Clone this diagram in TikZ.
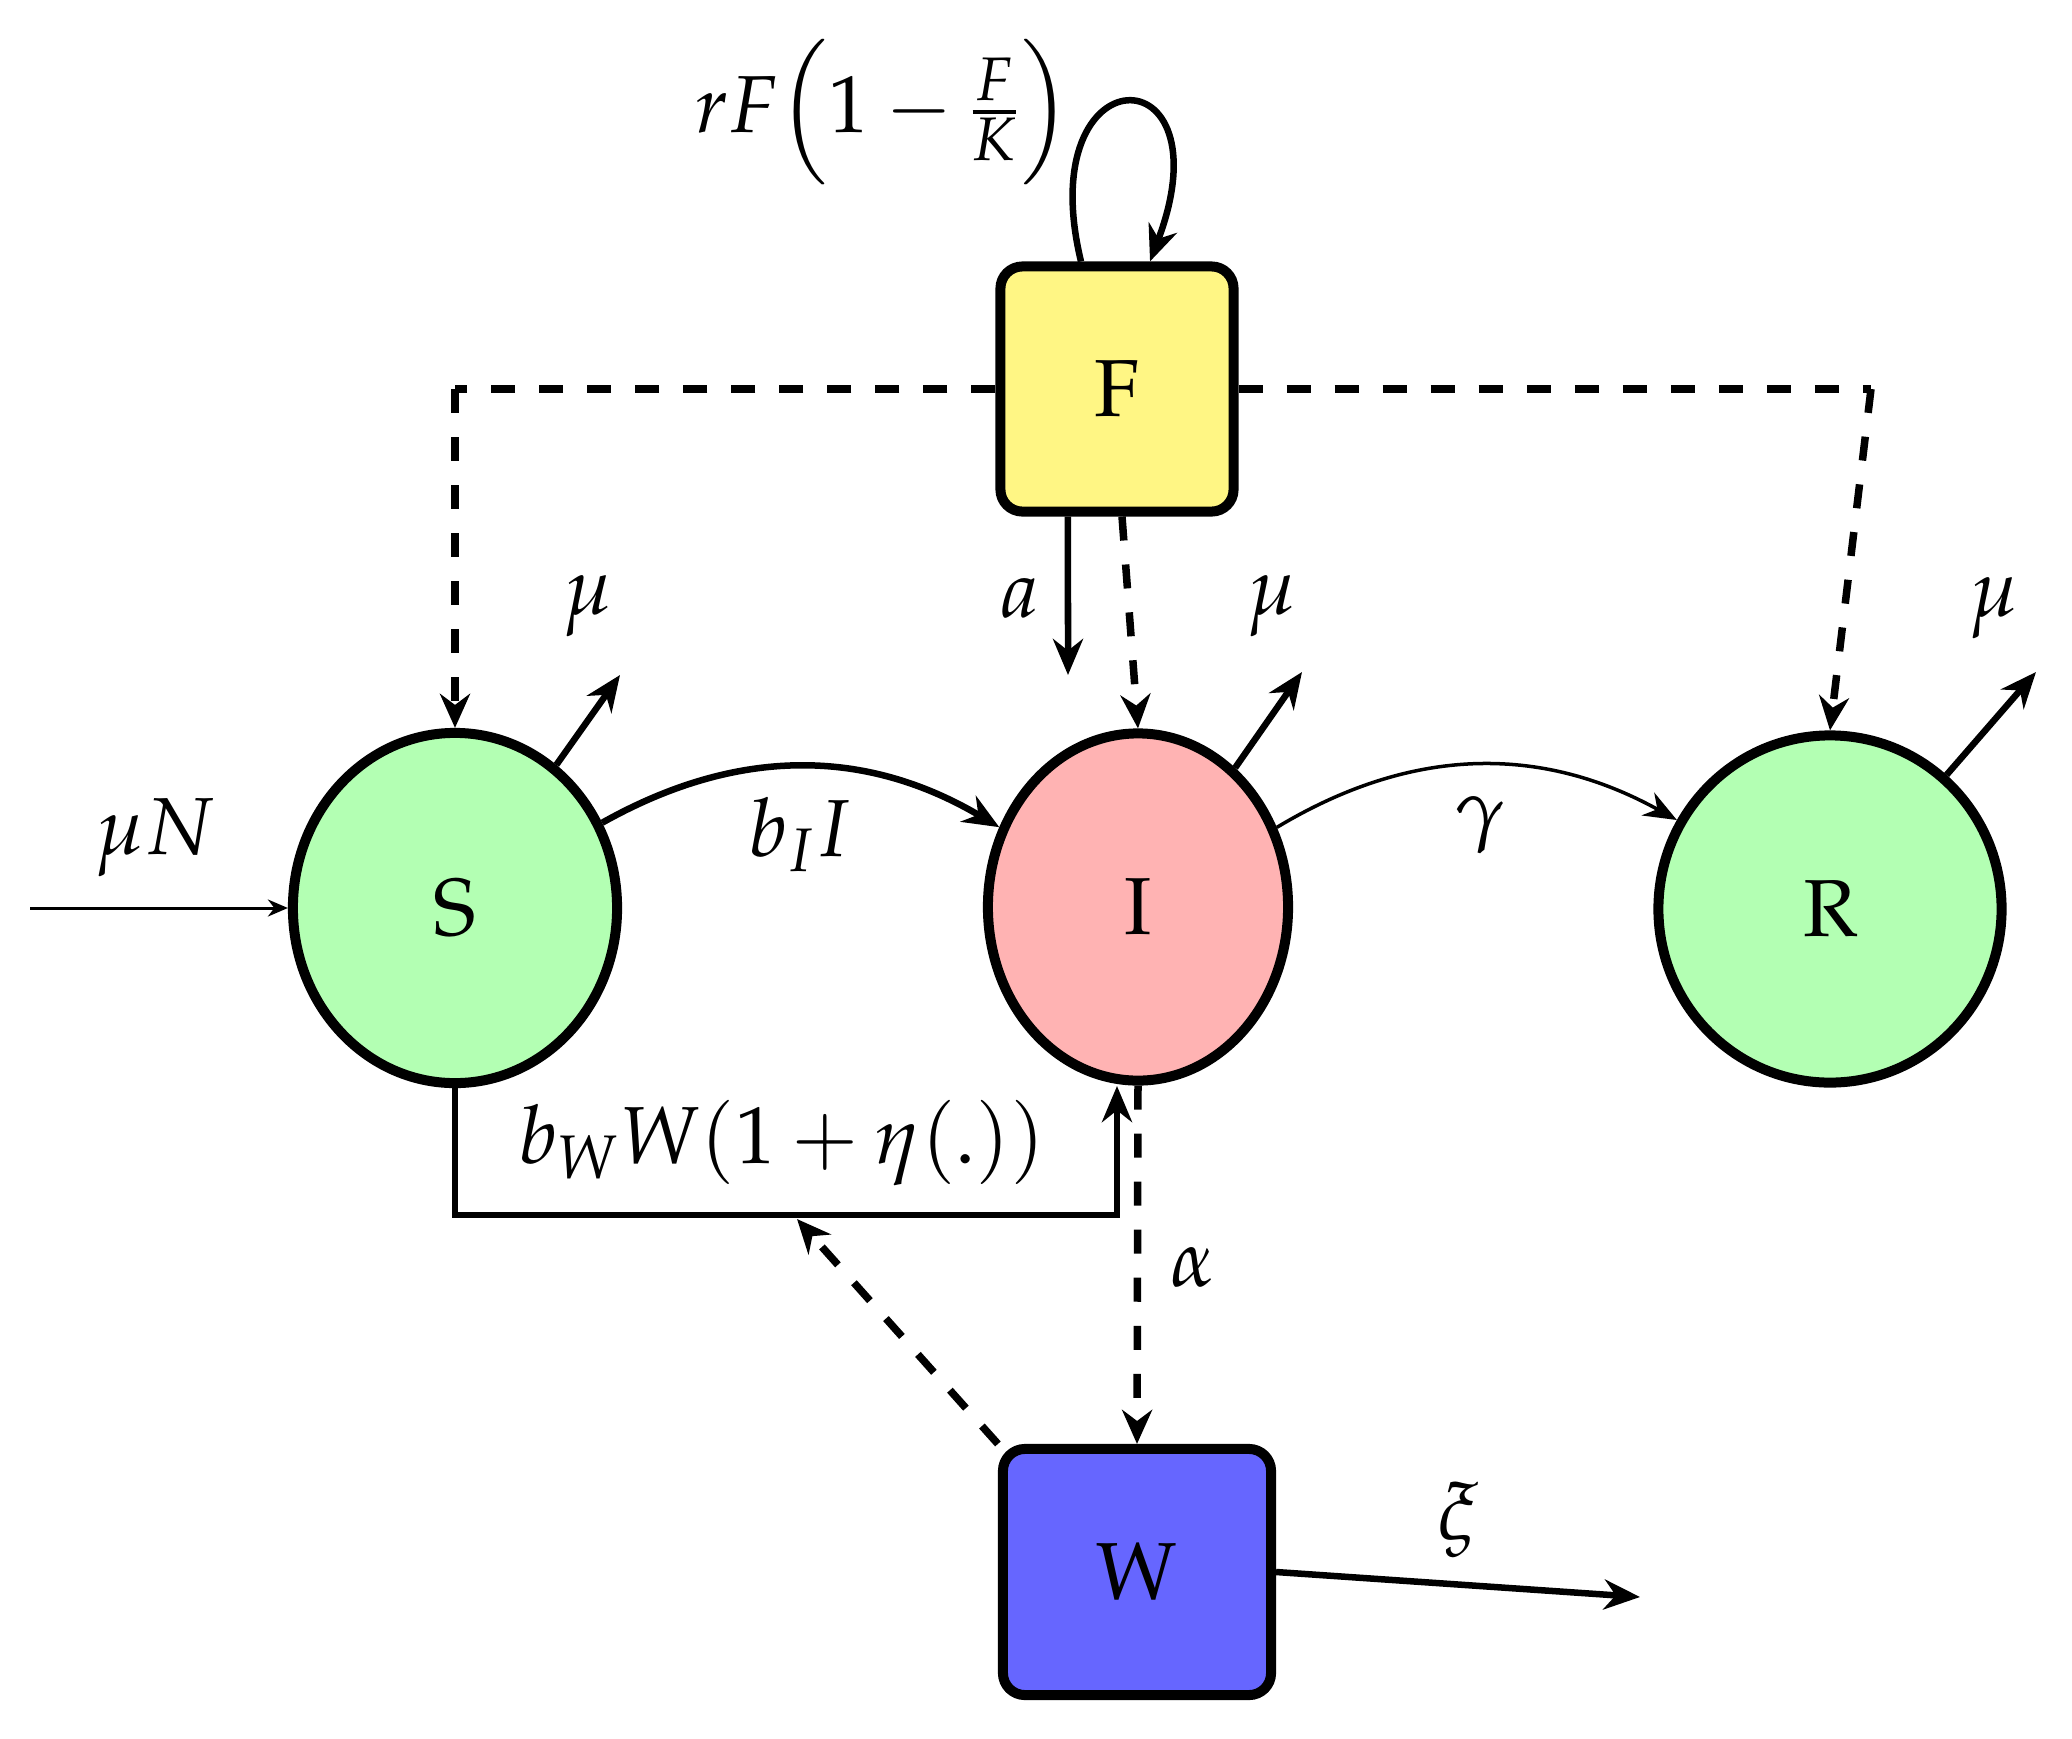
\documentclass[tikz,border=0pt]{standalone}
\usepackage[T1]{fontenc}
\usepackage{mathpazo}
\usetikzlibrary{arrows.meta,shapes.geometric}
\definecolor{sgreen}{HTML}{B3FFB3}
\definecolor{ired}{HTML}{FFB3B3}
\definecolor{fyel}{HTML}{FFF684}
\definecolor{wblue}{HTML}{6666FF}
\begin{document}
\begin{tikzpicture}[x=0.01cm,y=-0.01cm,
  bigfont/.style={font=\fontsize{23}{28}\selectfont},
  comp/.style={ellipse,draw,line width=0.1cm,inner sep=0pt,bigfont},
  box/.style={rectangle,rounded corners=0.22cm,draw,line width=0.1cm,inner sep=0pt,bigfont},
  lbl/.style={inner sep=0pt,bigfont},
  arr/.style={line width=0.065cm,-{Stealth[length=0.36cm,width=0.3cm]}},
  thinarr/.style={line width=0.03cm,-{Stealth[length=0.2cm,width=0.17cm]}},
  garr/.style={line width=0.035cm,-{Stealth[length=0.33cm,width=0.26cm]}},
  dsh/.style={line width=0.075cm,dash pattern=on 0.24cm off 0.24cm,-{Stealth[length=0.34cm,width=0.3cm]}},
  dshline/.style={line width=0.075cm,dash pattern=on 0.24cm off 0.24cm},
]
\useasboundingbox (0,0) rectangle (2072,1739);

% compartments
\node[comp,fill=sgreen,minimum width=3.24cm,minimum height=3.5cm] (S) at (455,908) {S};
\node[comp,fill=ired,minimum width=3.0cm,minimum height=3.47cm] (I) at (1138,907) {I};
\node[comp,fill=sgreen,minimum width=3.43cm,minimum height=3.47cm] (R) at (1830,909) {R};
\node[box,fill=fyel,minimum width=2.33cm,minimum height=2.45cm] (F) at (1117,389) {F};
\node[box,fill=wblue,minimum width=2.68cm,minimum height=2.46cm] (W) at (1137,1572) {W};

% coordinates
\coordinate (FL) at (455,389);
\coordinate (FR) at (1871,389);
\coordinate (aE) at (1068,675);
\coordinate (Smu) at (620,675);
\coordinate (Imu) at (1302,672);
\coordinate (Rmu) at (2036,672);
\coordinate (inS) at (30,908);
\coordinate (B1) at (455,1215);
\coordinate (B2) at (1117,1215);
\coordinate (B3) at (1117,1086);
\coordinate (Bm) at (797,1219);
\coordinate (xiE) at (1640,1597);

% dashed influence of F
\draw[dshline] (F.west) -- (FL);
\draw[dsh] (FL) -- (S.north);
\draw[dshline] (F.east) -- (FR);
\draw[dsh] (FR) -- (R.north);
\draw[dsh] ([xshift=0.05cm]F.south) -- (I.north);
\draw[arr] ([xshift=-0.49cm]F.south) -- (aE);

% logistic self loop
\draw[arr] ([xshift=-0.36cm]F.north) .. controls (1030,50) and (1230,50) .. ([xshift=0.33cm]F.north);

% deaths
\draw[arr] (S) -- (Smu);
\draw[arr] (I) -- (Imu);
\draw[arr] (R) -- (Rmu);

% flows
\draw[thinarr] (inS) -- (S);
\draw[arr] (S) to[bend left=30] (I);
\draw[garr] (I) to[bend left=30] (R);
\draw[arr] (S.south) -- (B1) -- (B2) -- (B3);
\draw[dsh] (I.south) -- (W.north);
\draw[dsh] (W.north west) -- (Bm);
\draw[arr] (W.east) -- (xiE);

% labels
\node[lbl] (lrF) at (883,112) {$rF\Bigl(1-\frac{F}{K}\Bigr)$};
\node[lbl] (lmuN) at (155,838) {$\mu N$};
\node[lbl] (lmuS) at (588,606) {$\mu$};
\node[lbl] (lmuI) at (1272,606) {$\mu$};
\node[lbl] (lmuR) at (1994,608) {$\mu$};
\node[lbl] (la) at (1020,598) {$a$};
\node[lbl] (lbI) at (800,835) {$b_I I$};
\node[lbl] (lg) at (1480,825) {$\gamma$};
\node[lbl] (lbW) at (782,1143) {$b_W W(1+\eta(.))$};
\node[lbl] (lal) at (1193,1267) {$\alpha$};
\node[lbl] (lxi) at (1458,1520) {$\xi$};
\end{tikzpicture}
\end{document}
